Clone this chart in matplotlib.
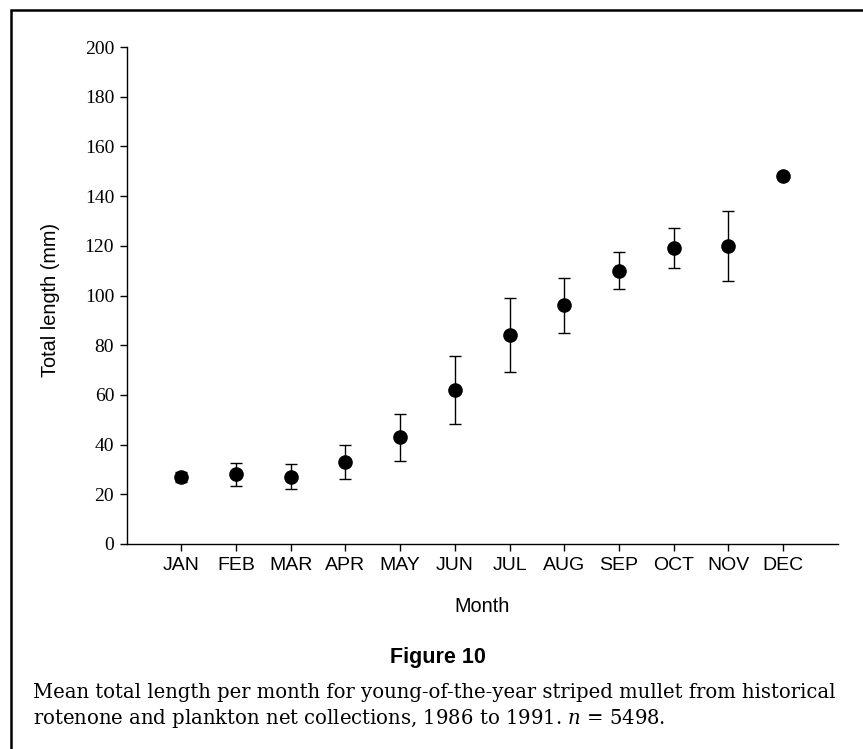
import numpy as np
import matplotlib
matplotlib.use("Agg")
import matplotlib.pyplot as plt
from matplotlib.patches import Rectangle

# ================================
# DADOS
# ================================
months = ["JAN", "FEB", "MAR", "APR", "MAY", "JUN",
          "JUL", "AUG", "SEP", "OCT", "NOV", "DEC"]
mean_length = [27, 28, 27, 33, 43, 62, 84, 96, 110, 119, 120, 148]
err_length = [2, 4.5, 5, 6.8, 9.5, 13.8, 14.8, 11, 7.5, 8, 14, 0]
y_ticks = [0, 20, 40, 60, 80, 100, 120, 140, 160, 180, 200]

plt.rcParams["mathtext.fontset"] = "dejavuserif"

W, H = 863, 749
fig = plt.figure(figsize=(W/100, H/100), dpi=100)

# moldura (só esquerda e topo visíveis)
fig.add_artist(Rectangle((11/W, -0.1), 1.2, 1 - 10/H + 0.1, transform=fig.transFigure,
                         fill=False, edgecolor="black", linewidth=1.8))

ax = fig.add_axes([126.7/W, 1 - 544/H, (837.7 - 126.7)/W, (544 - 47)/H])

x = np.arange(1, len(months) + 1)
ax.errorbar(x, mean_length, yerr=err_length, fmt="o", color="black",
            markersize=9.5, ecolor="black", elinewidth=1.0, capsize=4,
            capthick=1.0)

ax.set_xlim(0, 13)
ax.set_ylim(0, 200)
ax.set_xticks(x)
ax.set_xticklabels(months, fontfamily="Liberation Sans", fontsize=14)
ax.set_yticks(y_ticks)
ax.set_yticklabels([str(v) for v in y_ticks], fontfamily="Liberation Serif", fontsize=14)
ax.tick_params(direction="out", length=5, width=1.0, pad=4)
ax.spines["top"].set_visible(False)
ax.spines["right"].set_visible(False)
ax.spines["left"].set_linewidth(1.0)
ax.spines["bottom"].set_linewidth(1.0)

fig.text(51/W, 1 - 300/H, "Total length (mm)", rotation=90, ha="center", va="center",
         fontfamily="Liberation Sans", fontsize=14.3)
fig.text(482/W, 1 - 606/H, "Month", ha="center", va="center",
         fontfamily="Liberation Sans", fontsize=14.3)

fig.text(438/W, 1 - 657/H, "Figure 10", ha="center", va="center",
         fontfamily="Liberation Sans", fontweight="bold", fontsize=15.5)
fig.text(33/W, 1 - 693/H,
         "Mean total length per month for young-of-the-year striped mullet from historical",
         ha="left", va="center", fontfamily="DejaVu Serif", fontsize=14.1)
fig.text(33/W, 1 - 718/H,
         "rotenone and plankton net collections, 1986 to 1991. $n$ = 5498.",
         ha="left", va="center", fontfamily="DejaVu Serif", fontsize=14.1)

fig.savefig("out.png", dpi=100)
